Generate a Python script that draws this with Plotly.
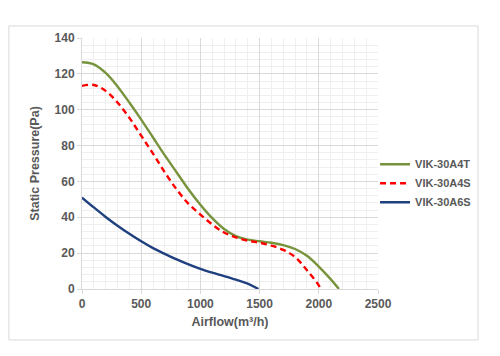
import plotly.graph_objects as go

# ---- data ----
a4t_flow = [0, 100, 200, 300, 400, 500, 600, 700, 800, 900, 1000,
            1100, 1200, 1300, 1400, 1500, 1600, 1700, 1800, 1900, 2000, 2100, 2170]
a4t_pres = [126.5, 125.3, 120.5, 113, 104, 94.5, 84.5, 74.5, 65, 55.5, 47,
            39.5, 33.5, 29.5, 27.5, 26.6, 25.8, 24.5, 22.3, 18.5, 12.5, 5.5, 0]

a4s_flow = [0, 100, 200, 300, 400, 500, 600, 700, 800, 900, 1000,
            1100, 1200, 1300, 1400, 1500, 1600, 1700, 1800, 1900, 2000, 2015]
a4s_pres = [113.3, 113.8, 110.5, 104, 95.5, 85.5, 75.5, 65, 55.5, 47.5, 41.5,
            36, 31.5, 28.8, 27, 25.8, 24.2, 21.8, 17.8, 10.5, 2, 0]

a6s_flow = [0, 100, 200, 300, 400, 500, 600, 700, 800, 900, 1000, 1100, 1200, 1300, 1400, 1490]
a6s_pres = [51, 45.5, 40.2, 35.3, 30.8, 26.6, 22.8, 19.6, 16.5, 13.7, 11.2, 9.1, 7.2, 5.2, 3, 0]

x_ticks = [0, 500, 1000, 1500, 2000, 2500]
y_ticks = [0, 20, 40, 60, 80, 100, 120, 140]

FONT = "Liberation Sans, Arial, sans-serif"
GREY = "#595959"

fig = go.Figure()
fig.add_trace(go.Scatter(x=a4t_flow, y=a4t_pres, mode="lines", name="<b>VIK-30A4T</b>",
                         line=dict(color="#77933C", width=2.4, shape="spline", smoothing=1)))
fig.add_trace(go.Scatter(x=a4s_flow, y=a4s_pres, mode="lines", name="<b>VIK-30A4S</b>",
                         line=dict(color="#FF0000", width=2.4, dash="6px,4px", shape="spline", smoothing=1)))
fig.add_trace(go.Scatter(x=a6s_flow, y=a6s_pres, mode="lines", name="<b>VIK-30A6S</b>",
                         line=dict(color="#1F3F7F", width=2.4, shape="spline", smoothing=1)))

# page body has an 8px margin: figure is drawn at (8, 8)
fig.update_layout(
    width=492, height=348,
    margin=dict(l=74, r=122, t=30, b=67, autoexpand=False),
    paper_bgcolor="white", plot_bgcolor="white",
    font=dict(family=FONT, size=12, color=GREY),
    showlegend=True,
    legend=dict(x=0.99, y=0.555, xanchor="left", yanchor="top",
                font=dict(family=FONT, size=11, color=GREY),
                bgcolor="rgba(0,0,0,0)", tracegroupgap=0, itemwidth=30),
    shapes=[dict(type="rect", xref="paper", yref="paper",
                 x0=-0.247, x1=1.338, y0=-0.203, y1=1.048,
                 line=dict(color="#D9D9D9", width=1), fillcolor="rgba(0,0,0,0)", layer="below")],
)

fig.update_xaxes(
    range=[0, 2500], tickvals=x_ticks, ticktext=[f"<b>{v}</b>" for v in x_ticks],
    showgrid=True, gridcolor="#D9D9D9", gridwidth=1,
    minor=dict(dtick=100, showgrid=True, gridcolor="#EFEFEF", gridwidth=1),
    zeroline=False, showline=True, linecolor="#D9D9D9", linewidth=1,
    ticks="outside", ticklen=4, tickcolor="#D9D9D9",
    title=dict(text="<b>Airflow(m³/h)</b>", standoff=6,
               font=dict(family=FONT, size=12.5, color=GREY)),
    tickfont=dict(family=FONT, size=12, color=GREY),
)
fig.update_yaxes(
    range=[0, 140], tickvals=y_ticks, ticktext=[f"<b>{v}</b>" for v in y_ticks],
    showgrid=True, gridcolor="#D9D9D9", gridwidth=1,
    minor=dict(dtick=4, showgrid=True, gridcolor="#EFEFEF", gridwidth=1),
    zeroline=False, showline=True, linecolor="#D9D9D9", linewidth=1,
    ticks="outside", ticklen=4, tickcolor="#D9D9D9",
    title=dict(text="<b>Static Pressure(Pa)</b>", standoff=12,
               font=dict(family=FONT, size=12.5, color=GREY)),
    tickfont=dict(family=FONT, size=12, color=GREY),
)

fig.write_html("out.html")
